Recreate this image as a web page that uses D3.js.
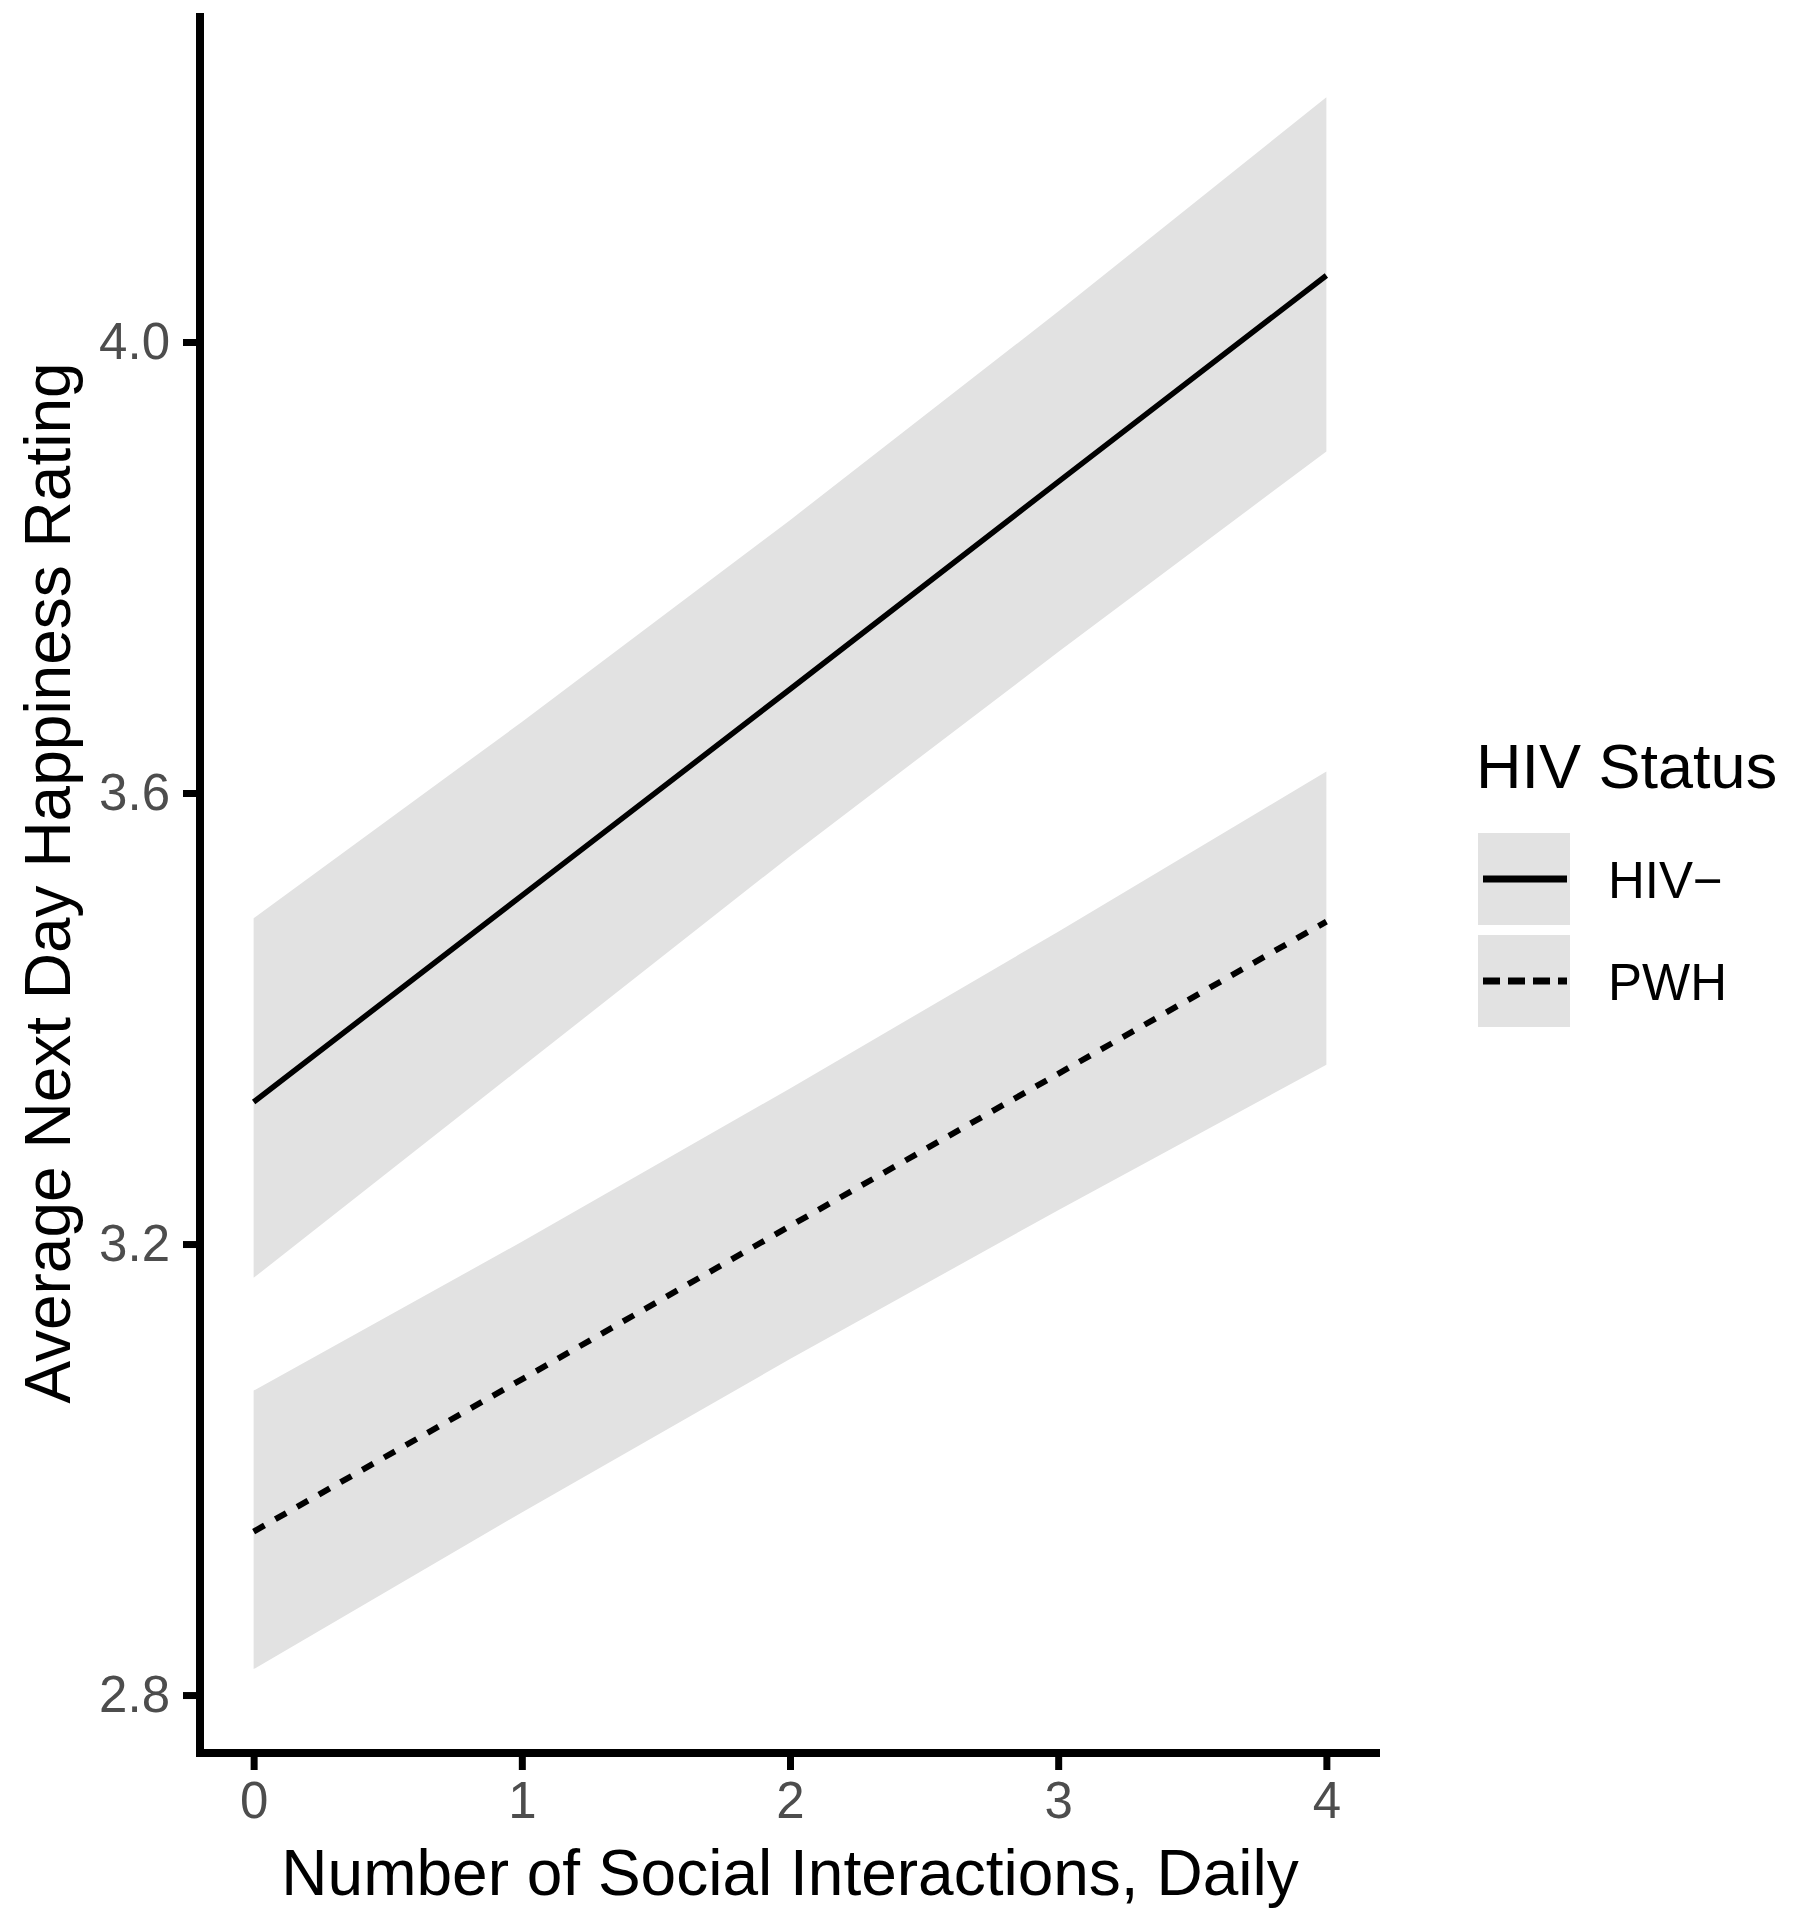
<!DOCTYPE html>
<html>
<head>
<meta charset="utf-8">
<script src="https://cdn.jsdelivr.net/npm/d3@7"></script>
<style>
  html, body { margin: 0; padding: 0; background: #ffffff; }
  svg { display: block; }
  text { font-family: "Liberation Sans", Arial, sans-serif; }
</style>
</head>
<body>
<svg id="chart" width="1793" height="1920"></svg>
<script>
// ---- data ----
const xVals = [0, 1, 2, 3, 4];
const hivNegFit   = [3.326, 3.509, 3.692, 3.876, 4.059];
const hivNegLower = [3.170, 3.357, 3.544, 3.725, 3.903];
const hivNegUpper = [3.489, 3.663, 3.842, 4.027, 4.217];
const pwhFit   = [2.945, 3.080, 3.216, 3.351, 3.486];
const pwhLower = [2.823, 2.962, 3.098, 3.230, 3.359];
const pwhUpper = [3.070, 3.202, 3.338, 3.477, 3.619];
const xTicks = [0, 1, 2, 3, 4];
const yTicks = [2.8, 3.2, 3.6, 4.0];
const seriesNames = ["HIV\u2212", "PWH"];
const xTitle = "Number of Social Interactions, Daily";
const yTitle = "Average Next Day Happiness Rating";
const legendTitle = "HIV Status";

// ---- layout ----
const panel = { left: 200, right: 1380, top: 13, bottom: 1753 };
const ribbonFill = "#e2e2e2";

const svg = d3.select("#chart");

const x = d3.scaleLinear().domain([-0.2, 4.2]).range([panel.left, panel.right]);
const y = d3.scaleLinear().domain([2.7486, 4.2918]).range([panel.bottom, panel.top]);

const series = [
  { name: seriesNames[0], fit: hivNegFit, lo: hivNegLower, hi: hivNegUpper, dash: null },
  { name: seriesNames[1], fit: pwhFit, lo: pwhLower, hi: pwhUpper, dash: "12.5,12.5" }
];

const area = d3.area()
  .x(d => x(d.x))
  .y0(d => y(d.lo))
  .y1(d => y(d.hi));
const line = d3.line()
  .x(d => x(d.x))
  .y(d => y(d.v));

// ribbons
series.forEach(s => {
  const pts = xVals.map((xv, i) => ({ x: xv, lo: s.lo[i], hi: s.hi[i] }));
  svg.append("path").attr("d", area(pts)).attr("fill", ribbonFill).attr("stroke", "none");
});
// lines
series.forEach(s => {
  const pts = xVals.map((xv, i) => ({ x: xv, v: s.fit[i] }));
  const p = svg.append("path").attr("d", line(pts))
    .attr("fill", "none").attr("stroke", "#000").attr("stroke-width", 5.5);
  if (s.dash) p.attr("stroke-dasharray", s.dash).attr("stroke-width", 6);
});

// axes
const yAxis = d3.axisLeft(y).tickValues(yTicks).tickFormat(d3.format(".1f"))
  .tickSize(17).tickSizeOuter(0).tickPadding(13);
const gy = svg.append("g").attr("transform", `translate(${panel.left},0)`).call(yAxis);
gy.select(".domain").attr("stroke", "#000").attr("stroke-width", 8)
  .attr("d", `M0,${panel.top}V${panel.bottom + 4}`);
gy.selectAll(".tick line").attr("stroke", "#000").attr("stroke-width", 7);
gy.selectAll(".tick text").attr("font-size", 51).attr("fill", "#4d4d4d")
  .attr("font-family", "'Liberation Sans', Arial, sans-serif");

const xAxis = d3.axisBottom(x).tickValues(xTicks).tickFormat(d3.format("d"))
  .tickSize(17).tickSizeOuter(0).tickPadding(12);
const gx = svg.append("g").attr("transform", `translate(0,${panel.bottom})`).call(xAxis);
gx.select(".domain").attr("stroke", "#000").attr("stroke-width", 8)
  .attr("d", `M${panel.left - 4},0H${panel.right}`);
gx.selectAll(".tick line").attr("stroke", "#000").attr("stroke-width", 7);
gx.selectAll(".tick text").attr("font-size", 51).attr("fill", "#4d4d4d")
  .attr("font-family", "'Liberation Sans', Arial, sans-serif");

// axis titles
svg.append("text")
  .attr("x", (panel.left + panel.right) / 2).attr("y", 1895)
  .attr("text-anchor", "middle").attr("font-size", 64).attr("fill", "#000")
  .text(xTitle);
svg.append("text")
  .attr("transform", `translate(70,${(panel.top + panel.bottom) / 2}) rotate(-90)`)
  .attr("text-anchor", "middle").attr("font-size", 64).attr("fill", "#000")
  .text(yTitle);

// legend
const lg = svg.append("g");
lg.append("text").attr("x", 1476).attr("y", 788).attr("font-size", 63).attr("fill", "#000")
  .text(legendTitle);
series.forEach((s, i) => {
  const top = 833 + i * 102;
  lg.append("rect").attr("x", 1478).attr("y", top).attr("width", 92).attr("height", 92)
    .attr("fill", ribbonFill);
  const l = lg.append("line").attr("x1", 1483).attr("x2", 1567)
    .attr("y1", top + 46).attr("y2", top + 46)
    .attr("stroke", "#000").attr("stroke-width", 7);
  if (s.dash) l.attr("stroke-dasharray", "17,8");
  lg.append("text").attr("x", 1608).attr("y", top + 65).attr("font-size", 51).attr("fill", "#000")
    .text(s.name);
});
</script>
</body>
</html>
